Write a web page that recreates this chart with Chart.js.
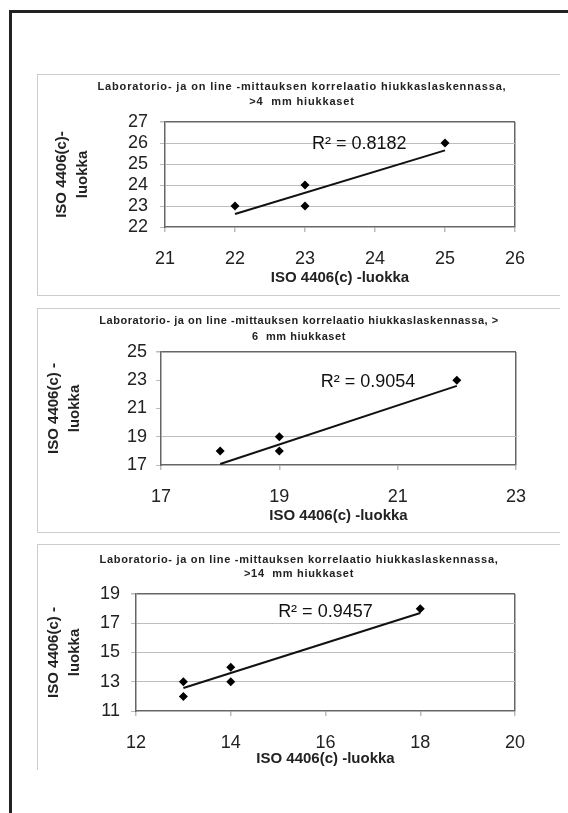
<!DOCTYPE html>
<html>
<head>
<meta charset="utf-8">
<script src="https://cdn.jsdelivr.net/npm/chart.js@4.4.1/dist/chart.umd.min.js"></script>
<style>
  body { margin: 0; width: 568px; height: 813px; overflow: hidden; position: relative; background: #fff; }
  .frame { position: absolute; left: 9px; top: 10px; width: 620px; height: 860px; border-left: 3px solid #222; border-top: 3px solid #222; }
  .panel { position: absolute; left: 37px; width: 522px; border: 1px solid #cdcdcd; border-right: none; background: #fff; }
  .panel canvas { display: block; }
</style>
</head>
<body>
<div class="frame"></div>
<div class="panel" style="top:74px;"><canvas id="chart4" width="522" height="220"></canvas></div>
<div class="panel" style="top:308px;"><canvas id="chart6" width="522" height="223"></canvas></div>
<div class="panel" style="top:544px; border-bottom:none;"><canvas id="chart14" width="522" height="225"></canvas></div>
<script>
// >4 mm hiukkaset
const title4 = ["Laboratorio- ja on line -mittauksen korrelaatio hiukkaslaskennassa,", ">4  mm hiukkaset"];
const yTitle4 = ["ISO 4406(c)-", "luokka"];
const x4 = [22, 23, 23, 25];
const y4 = [23, 24, 23, 26];
const trendX4 = [22, 25];
const trendY4 = [22.62, 25.65];
const xTicks4 = [21, 22, 23, 24, 25, 26];
const yTicks4 = [22, 23, 24, 25, 26, 27];
const r2Text4 = "R² = 0.8182";

// >6 mm hiukkaset
const title6 = ["Laboratorio- ja on line -mittauksen korrelaatio hiukkaslaskennassa, >", "6  mm hiukkaset"];
const yTitle6 = ["ISO 4406(c) -", "luokka"];
const x6 = [18, 19, 19, 22];
const y6 = [18, 19, 18, 23];
const trendX6 = [18, 22];
const trendY6 = [17.07, 22.6];
const xTicks6 = [17, 19, 21, 23];
const yTicks6 = [17, 19, 21, 23, 25];
const r2Text6 = "R² = 0.9054";

// >14 mm hiukkaset
const title14 = ["Laboratorio- ja on line -mittauksen korrelaatio hiukkaslaskennassa,", ">14  mm hiukkaset"];
const yTitle14 = ["ISO 4406(c) -", "luokka"];
const x14 = [13, 13, 14, 14, 18];
const y14 = [13, 12, 14, 13, 18];
const trendX14 = [13, 18];
const trendY14 = [12.57, 17.7];
const xTicks14 = [12, 14, 16, 18, 20];
const yTicks14 = [11, 13, 15, 17, 19];
const r2Text14 = "R² = 0.9457";

const xTitle = "ISO 4406(c) -luokka";
const FONT = "'Liberation Sans', Arial, sans-serif";

const toPoints = (xs, ys) => xs.map((x, i) => ({ x: x, y: ys[i] }));

// R² text of the trendline, placed in data units
const r2Plugin = {
  id: "r2Label",
  afterDatasetsDraw(chart, args, opts) {
    const { ctx, scales } = chart;
    ctx.save();
    ctx.font = "18px " + FONT;
    ctx.fillStyle = "#111";
    ctx.textAlign = "left";
    ctx.textBaseline = "middle";
    ctx.fillText(opts.text, scales.x.getPixelForValue(opts.x), scales.y.getPixelForValue(opts.y));
    ctx.restore();
  },
};

// chart title with a little letter spacing, like the scanned Excel one
const spacedTitle = {
  id: "spacedTitle",
  afterDraw(chart, args, opts) {
    const { ctx, width } = chart;
    ctx.save();
    ctx.font = "bold 11px " + FONT;
    ctx.fillStyle = "#222";
    ctx.textAlign = "center";
    ctx.textBaseline = "middle";
    if ("letterSpacing" in ctx) ctx.letterSpacing = opts.spacing + "px";
    opts.lines.forEach((line, i) => ctx.fillText(line, width / 2 + opts.shift, opts.ys[i]));
    ctx.restore();
  },
};

const makeChart = (id, s) => {
  const ctx = document.getElementById(id).getContext("2d");
  const yMax = s.yTicks[s.yTicks.length - 1];
  const xMax = s.xTicks[s.xTicks.length - 1];
  new Chart(ctx, {
    type: "scatter",
    data: {
      datasets: [
        {
          data: toPoints(s.xs, s.ys),
          pointStyle: "rectRot",
          pointRadius: 4.5,
          backgroundColor: "#000",
          borderColor: "#000",
          borderWidth: 0,
        },
        {
          data: toPoints(s.trendX, s.trendY),
          showLine: true,
          pointRadius: 0,
          borderColor: "#111",
          borderWidth: 2,
        },
      ],
    },
    options: {
      responsive: false,
      animation: false,
      devicePixelRatio: 1,
      layout: { padding: { left: 0, right: s.padRight, top: s.padTop, bottom: 0 } },
      plugins: {
        legend: { display: false },
        tooltip: { enabled: false },
        title: { display: false },
        spacedTitle: { lines: s.title, ys: s.titleYs, spacing: s.titleSpacing, shift: s.titleShift },
        r2Label: { text: s.r2, x: s.r2x, y: s.r2y },
      },
      scales: {
        x: {
          type: "linear",
          min: s.xTicks[0],
          max: xMax,
          afterBuildTicks: (axis) => { axis.ticks = s.xTicks.map((v) => ({ value: v })); },
          afterFit: (axis) => { axis.height = s.xAxisH; },
          grid: {
            color: (c) => (c.tick && c.tick.value === xMax ? "#666" : "rgba(0,0,0,0)"),
            lineWidth: 1.5,
            tickLength: 5,
            tickColor: "#bbb",
          },
          border: { color: "#666", width: 1.5 },
          ticks: { color: "#222", padding: 16, autoSkip: false, maxRotation: 0, font: { family: FONT, size: 18 } },
          title: {
            display: true,
            text: xTitle,
            color: "#222",
            font: { family: FONT, size: 15, weight: "bold" },
            padding: { top: 0, bottom: s.xTitleBottom },
          },
        },
        y: {
          type: "linear",
          min: s.yTicks[0],
          max: yMax,
          afterBuildTicks: (axis) => { axis.ticks = s.yTicks.map((v) => ({ value: v })); },
          afterFit: (axis) => { axis.width = s.yAxisW; },
          grid: {
            color: (c) => {
              if (!c.tick) return "rgba(0,0,0,0)";
              if (c.tick.value === yMax) return "#666";
              return s.gridAt.includes(c.tick.value) ? "#bdbdbd" : "rgba(0,0,0,0)";
            },
            lineWidth: (c) => (c.tick && c.tick.value === yMax ? 1.5 : 1),
            tickLength: 5,
            tickColor: "#bbb",
          },
          border: { color: "#666", width: 1.5 },
          ticks: { color: "#222", padding: s.yTickPad, autoSkip: false, font: { family: FONT, size: 18 } },
          title: {
            display: true,
            text: s.yTitle,
            color: "#222",
            font: { family: FONT, size: 15, weight: "bold", lineHeight: 21 / 15 },
            padding: { top: s.yTitleTop, bottom: 0 },
          },
        },
      },
    },
    plugins: [spacedTitle, r2Plugin],
  });
};

makeChart("chart4", {
  title: title4, yTitle: yTitle4, xs: x4, ys: y4, trendX: trendX4, trendY: trendY4,
  xTicks: xTicks4, yTicks: yTicks4, r2: r2Text4, r2x: 23.1, r2y: 25.95,
  gridAt: [23, 24, 25, 26],
  padRight: 45, padTop: 47, yAxisW: 127, xAxisH: 68, yTickPad: 12, xTitleBottom: 8,
  titleYs: [12, 27], titleSpacing: 0.85, titleShift: 3, yTitleTop: 13.5,
});

makeChart("chart6", {
  title: title6, yTitle: yTitle6, xs: x6, ys: y6, trendX: trendX6, trendY: trendY6,
  xTicks: xTicks6, yTicks: yTicks6, r2: r2Text6, r2x: 19.7, r2y: 22.9,
  gridAt: [19],
  padRight: 44, padTop: 43, yAxisW: 123, xAxisH: 67, yTickPad: 9, xTitleBottom: 7,
  titleYs: [12, 28], titleSpacing: 0.55, titleShift: 0, yTitleTop: 5,
});

makeChart("chart14", {
  title: title14, yTitle: yTitle14, xs: x14, ys: y14, trendX: trendX14, trendY: trendY14,
  xTicks: xTicks14, yTicks: yTicks14, r2: r2Text14, r2x: 15.0, r2y: 17.8,
  gridAt: [13, 15, 17],
  padRight: 45, padTop: 49, yAxisW: 98, xAxisH: 59, yTickPad: 11, xTitleBottom: 2,
  titleYs: [15, 29], titleSpacing: 0.7, titleShift: 0, yTitleTop: 5,
});
</script>
</body>
</html>
